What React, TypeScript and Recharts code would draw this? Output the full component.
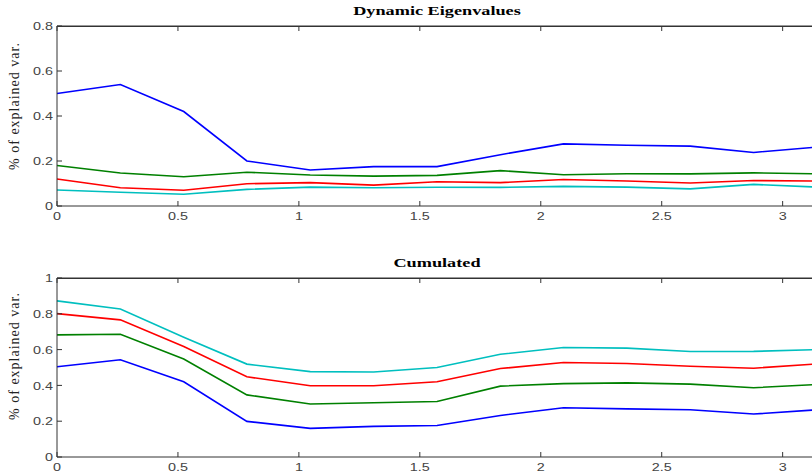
import React from 'react';
import { LineChart, Line, XAxis, YAxis } from 'recharts';

// frequencies (0 .. pi in pi/12 steps)
const freq = [0, 0.262, 0.524, 0.785, 1.047, 1.309, 1.571, 1.833, 2.094, 2.356, 2.618, 2.88, 3.142];

// Dynamic eigenvalues, share of explained variance
const eig1 = [0.5, 0.54, 0.42, 0.2, 0.16, 0.175, 0.175, 0.228, 0.276, 0.27, 0.266, 0.238, 0.262];
const eig2 = [0.18, 0.147, 0.13, 0.15, 0.138, 0.133, 0.136, 0.157, 0.139, 0.143, 0.143, 0.147, 0.143];
const eig3 = [0.12, 0.081, 0.07, 0.099, 0.104, 0.093, 0.108, 0.104, 0.118, 0.111, 0.102, 0.113, 0.111];
const eig4 = [0.071, 0.061, 0.052, 0.074, 0.084, 0.081, 0.083, 0.083, 0.087, 0.084, 0.076, 0.096, 0.084];

// Cumulated
const cum1 = [0.504, 0.543, 0.42, 0.199, 0.16, 0.171, 0.176, 0.232, 0.275, 0.269, 0.264, 0.24, 0.264];
const cum2 = [0.682, 0.686, 0.547, 0.347, 0.296, 0.303, 0.31, 0.396, 0.41, 0.414, 0.407, 0.387, 0.405];
const cum3 = [0.801, 0.766, 0.617, 0.448, 0.398, 0.398, 0.42, 0.494, 0.528, 0.522, 0.507, 0.496, 0.52];
const cum4 = [0.872, 0.827, 0.669, 0.519, 0.477, 0.475, 0.5, 0.574, 0.612, 0.608, 0.589, 0.59, 0.6];

const xTicks = [0, 0.5, 1, 1.5, 2, 2.5, 3];
const yTicksTop = [0, 0.2, 0.4, 0.6, 0.8];
const yTicksBottom = [0, 0.2, 0.4, 0.6, 0.8, 1];

const COLORS = ['#0000ff', '#008000', '#ff0000', '#00bfbf'];
const AXIS = '#333333';
const TICK_TEXT = '#444444';
const SANS = '"Liberation Sans", Arial, sans-serif';
const SERIF = '"Liberation Serif", "Times New Roman", serif';
const X_MAX = 3.142;

function buildRows(series: number[][]) {
  return freq.map((f, i) => {
    const row: Record<string, number> = { f };
    series.forEach((s, k) => {
      row[`s${k}`] = s[i];
    });
    return row;
  });
}

const topRows = buildRows([eig1, eig2, eig3, eig4]);
const bottomRows = buildRows([cum1, cum2, cum3, cum4]);

// MATLAB-ish tick labels, a bit wider than tall
function YTick(props: any) {
  const { x, y, payload } = props;
  return (
    <g transform={`translate(${x},${y})`}>
      <text
        transform="scale(1.25,1)"
        textAnchor="end"
        dy="0.36em"
        fontSize={11.5}
        fontFamily={SANS}
        fill={TICK_TEXT}
      >
        {String(payload.value)}
      </text>
    </g>
  );
}

function XTick(props: any) {
  const { x, y, payload } = props;
  return (
    <g transform={`translate(${x},${y})`}>
      <text
        transform="scale(1.25,1)"
        textAnchor="middle"
        dy={14}
        fontSize={11.5}
        fontFamily={SANS}
        fill={TICK_TEXT}
      >
        {String(payload.value)}
      </text>
    </g>
  );
}

function NoTick() {
  return <g />;
}

type PanelProps = {
  rows: Record<string, number>[];
  height: number;
  yMax: number;
  yTicks: number[];
};

function Panel({ rows, height, yMax, yTicks }: PanelProps) {
  return (
    <LineChart
      width={837}
      height={height}
      data={rows}
      margin={{ top: 6, right: 0, left: 7, bottom: 0 }}
    >
      <XAxis
        dataKey="f"
        type="number"
        domain={[0, X_MAX]}
        ticks={xTicks}
        height={20}
        stroke={AXIS}
        tickSize={-5}
        tickMargin={5}
        tick={<XTick />}
      />
      {/* box: top and right axes, same scales, ticks only */}
      <XAxis
        xAxisId="top"
        orientation="top"
        dataKey="f"
        type="number"
        domain={[0, X_MAX]}
        ticks={xTicks}
        height={20}
        stroke={AXIS}
        tickSize={-5}
        tick={<NoTick />}
      />
      <YAxis
        type="number"
        domain={[0, yMax]}
        ticks={yTicks}
        width={50}
        stroke={AXIS}
        tickSize={-5}
        tickMargin={9}
        tick={<YTick />}
      />
      <YAxis
        yAxisId="right"
        orientation="right"
        type="number"
        domain={[0, yMax]}
        ticks={yTicks}
        width={20}
        stroke={AXIS}
        tickSize={-5}
        tick={<NoTick />}
      />
      {COLORS.map((c, k) => (
        <Line
          key={c}
          type="linear"
          dataKey={`s${k}`}
          stroke={c}
          strokeWidth={1.6}
          dot={false}
          activeDot={false}
          isAnimationActive={false}
        />
      ))}
    </LineChart>
  );
}

const titleStyle: React.CSSProperties = {
  position: 'absolute',
  left: 0,
  width: 874,
  textAlign: 'center',
  fontFamily: SERIF,
  fontWeight: 700,
  fontSize: 13.5,
  lineHeight: '17px',
  color: '#000',
  transform: 'scaleX(1.35)',
  whiteSpace: 'nowrap',
};

const yLabelStyle: React.CSSProperties = {
  position: 'absolute',
  width: 200,
  height: 20,
  lineHeight: '20px',
  textAlign: 'center',
  fontFamily: SERIF,
  fontSize: 14,
  letterSpacing: 1,
  color: '#222',
  transform: 'rotate(-90deg)',
  whiteSpace: 'nowrap',
};

// axes frame (top edge of the MATLAB box)
const frameStyle: React.CSSProperties = {
  position: 'absolute',
  left: 57,
  width: 760,
  boxSizing: 'border-box',
  borderTop: `1px solid ${AXIS}`,
  borderRight: `1px solid ${AXIS}`,
  pointerEvents: 'none',
};

export default function App() {
  return (
    <div
      style={{
        position: 'absolute',
        top: 0,
        left: 0,
        width: 812,
        height: 474,
        overflow: 'hidden',
        background: '#fff',
      }}
    >
      <div style={{ position: 'absolute', top: 0, left: 0 }}>
        <Panel rows={topRows} height={226} yMax={0.8} yTicks={yTicksTop} />
      </div>
      <div style={{ position: 'absolute', top: 252, left: 0 }}>
        <Panel rows={bottomRows} height={225} yMax={1} yTicks={yTicksBottom} />
      </div>
      <div style={{ ...frameStyle, top: 26, height: 180 }} />
      <div style={{ ...frameStyle, top: 278, height: 179 }} />
      <div style={{ ...titleStyle, top: 2 }}>Dynamic Eigenvalues</div>
      <div style={{ ...titleStyle, top: 254 }}>Cumulated</div>
      <div style={{ ...yLabelStyle, left: 15 - 100, top: 106 - 10 }}>% of explained var.</div>
      <div style={{ ...yLabelStyle, left: 15 - 100, top: 356 - 10 }}>% of explained var.</div>
    </div>
  );
}
